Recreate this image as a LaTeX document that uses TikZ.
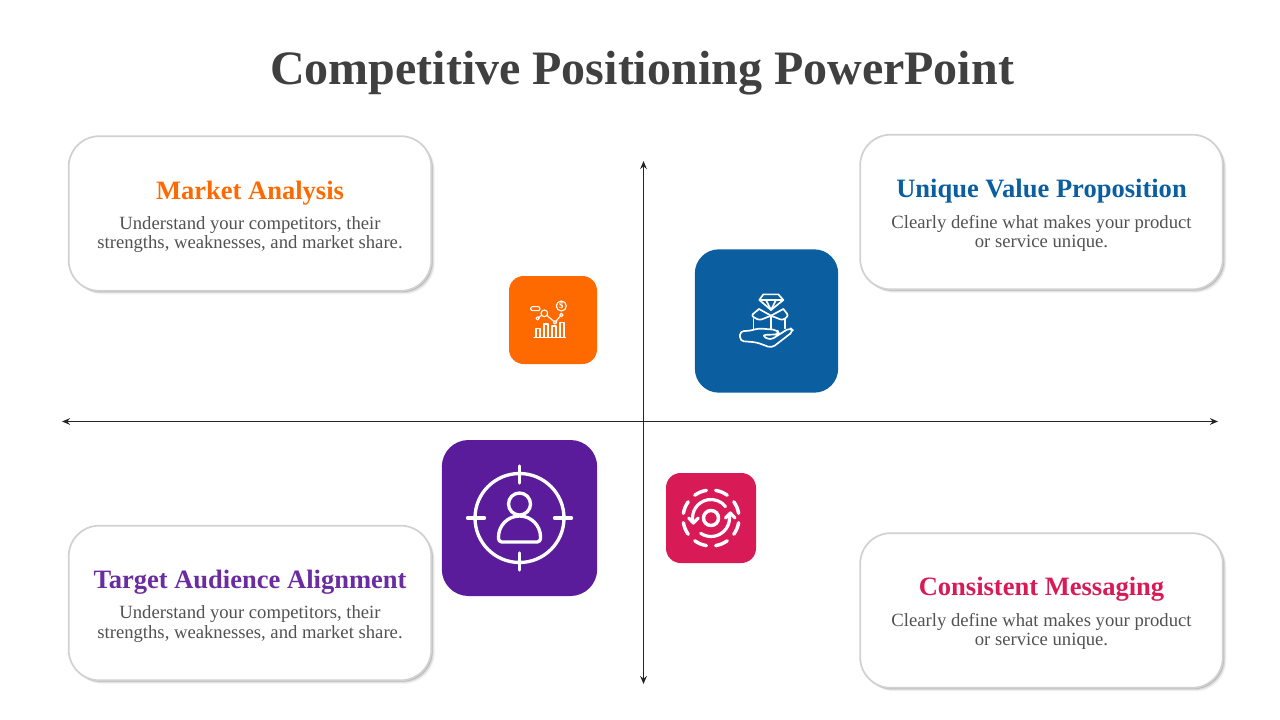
\documentclass[tikz,border=0pt]{standalone}
\usepackage{fontspec}
\setmainfont{Liberation Serif}
\usetikzlibrary{calc,positioning,shadows,arrows.meta}
\definecolor{mktOrange}{HTML}{FF6A00}
\definecolor{uvpBlue}{HTML}{0B5FA0}
\definecolor{tgtPurple}{HTML}{5A1C9A}
\definecolor{tgtText}{HTML}{6A2CA0}
\definecolor{msgRed}{HTML}{D81B56}
\begin{document}
\begin{tikzpicture}[x=0.75pt,y=-0.75pt,
    infocard/.style={draw=black!18,line width=1.3pt,fill=white,rounded corners=23pt,
      minimum width=272pt,minimum height=116pt,
      drop shadow={shadow xshift=2.6pt,shadow yshift=-2.6pt,fill=black!12,opacity=.4},
      drop shadow={shadow xshift=1.8pt,shadow yshift=-1.8pt,fill=black!25,opacity=.45},
      drop shadow={shadow xshift=1pt,shadow yshift=-1pt,fill=black!38,opacity=.55}},
    headtext/.style={font=\fontsize{19.9}{22}\selectfont\bfseries},
    bodytext/.style={align=center,text=black!68,font=\fontsize{14}{14.3}\selectfont},
    iconbox/.style={inner sep=0pt,outer sep=0pt},
    iconline/.style={draw=white,line cap=round,line join=round},
    axisline/.style={{Stealth[length=6pt,width=5pt]}-{Stealth[length=6pt,width=5pt]},line width=.9pt,black!85}]
 \useasboundingbox (0,0) rectangle (1280,720);
 \node[font=\fontsize{36}{40}\selectfont\bfseries,text=black!75] (slideTitle) at (642,73)
  {Competitive Positioning PowerPoint};

 \coordinate (axisW) at (62,421.5);
 \coordinate (axisE) at (1218,421.5);
 \coordinate (axisN) at (643.5,161);
 \coordinate (axisS) at (643.5,684);
 \draw[axisline] (axisW) -- (axisE);
 \draw[axisline] (axisN) -- (axisS);

 \node[infocard] (mktCard) at (250,213.5) {};
 \node[infocard] (uvpCard) at (1041.5,212) {};
 \node[infocard] (tgtCard) at (250,603) {};
 \node[infocard] (msgCard) at (1041.5,610.5) {};

 \node[headtext,text=mktOrange] (mktHead) at ($(mktCard.center)+(0,-20.5)$) {Market Analysis};
 \node[bodytext] (mktBody) at ($(mktCard.center)+(0,21)$)
  {Understand your competitors, their\\ strengths, weaknesses, and market share.};
 \node[headtext,text=uvpBlue] (uvpHead) at ($(uvpCard.center)+(0,-21)$) {Unique Value Proposition};
 \node[bodytext] (uvpBody) at ($(uvpCard.center)+(0,21)$)
  {Clearly define what makes your product\\ or service unique.};
 \node[headtext,text=tgtText] (tgtHead) at ($(tgtCard.center)+(0,-21)$) {Target Audience Alignment};
 \node[bodytext] (tgtBody) at ($(tgtCard.center)+(0,21)$)
  {Understand your competitors, their\\ strengths, weaknesses, and market share.};
 \node[headtext,text=msgRed] (msgHead) at ($(msgCard.center)+(0,-21)$) {Consistent Messaging};
 \node[bodytext] (msgBody) at ($(msgCard.center)+(0,21)$)
  {Clearly define what makes your product\\ or service unique.};

 \node[iconbox,fill=mktOrange,rounded corners=11pt,minimum size=66pt] (mktIcon) at (553,320) {};
 \node[iconbox,fill=uvpBlue,rounded corners=18pt,minimum size=107.5pt] (uvpIcon) at (766.5,321) {};
 \node[iconbox,fill=tgtPurple,rounded corners=20pt,minimum width=116.5pt,minimum height=117pt] (tgtIcon) at (519.5,518) {};
 \node[iconbox,fill=msgRed,rounded corners=11pt,minimum size=67.5pt] (msgIcon) at (711,518) {};

 % chart
 \begin{scope}[shift={(500,270)},scale=1/3,iconline,line width=.85pt]
  \draw (102,202) -- (197,202);
  \foreach \X/\Y in {108/176,132/162,156/168,180/158}
   {\draw (\X,202) -- (\X,\Y) -- (\X+12,\Y) -- (\X+12,202);}
  \draw (113,145) -- (133,130) -- (165,157) -- (184,135);
  \foreach \X/\Y/\R in {113/145/5,133/130/10,165/157/5,184/135/5}
   {\draw[fill=mktOrange] (\X,\Y) circle (\R);}
  \draw[rounded corners=1.5pt] (92,110) rectangle (120,122);
  \draw (184,108) circle (15);
  \node[iconbox,white,font=\fontsize{6.5}{7}\selectfont\bfseries] (mktDollar) at (184,108) {\$};
 \end{scope}

 % hand with box
 \begin{scope}[shift={(690,245)},scale=1/3,iconline,line width=1.25pt]
  \draw (220,148) -- (265,148) -- (280,165) -- (243,195) -- (208,165) -- cycle;
  \draw (208,165) -- (280,165) (228,165) -- (243,195) -- (258,165);
  \draw[rounded corners=2pt] (207,192) -- (183,212) -- (208,226) -- (243,212) -- (278,226) -- (296,212) -- (280,192);
  \draw (207,192) -- (243,212) -- (280,192);
  \draw (190,222) -- (190,252) (285,222) -- (285,250) (243,212) -- (243,252);
  \draw[rounded corners=3pt] (150,258) -- (178,258) -- (205,250) -- (262,255) -- (268,268) -- (215,270) -- (240,286) -- (300,248) -- (311,258) -- (245,309) -- (200,292) -- (150,288) -- cycle;
 \end{scope}

 % crosshair with person
 \begin{scope}[shift={(tgtIcon.center)},iconline,line width=2.5pt]
  \draw (0,0) circle (44.5);
  \draw (0,-52) -- (0,-35) (0,35) -- (0,52) (-52,0) -- (-35,0) (35,0) -- (52,0);
  \draw (0,-14) circle (11);
  \draw (-21,19) arc[start angle=180,end angle=360,radius=21];
  \draw[rounded corners=2.5pt] (-21,19) -- (-21,24) -- (21,24) -- (21,19);
 \end{scope}

 % dashed ring with arrows
 \foreach \A in {22.5,67.5,...,337.5}
  {\draw[iconline,line width=2.6pt] ([shift={(\A-13:28)}]msgIcon.center) arc[start angle=\A-13,end angle=\A+13,radius=28];}
 \draw[iconline,line width=2.6pt] (msgIcon.center) circle (7.5);
 \draw[iconline,line width=2.4pt] ([shift={(169:18.5)}]msgIcon.center) arc[start angle=169,end angle=322,radius=18.5];
 \draw[iconline,line width=2.4pt] ([shift={(124:18.5)}]msgIcon.center) arc[start angle=124,end angle=-10,radius=18.5];
 \draw[iconline,line width=2.4pt] ($(msgIcon.center)+(-22.3,0)$) -- ($(msgIcon.center)+(-17.7,5)$) -- ($(msgIcon.center)+(-12.7,0)$);
 \draw[iconline,line width=2.4pt] ($(msgIcon.center)+(14.5,0)$) -- ($(msgIcon.center)+(19.3,-5)$) -- ($(msgIcon.center)+(24,0)$);
\end{tikzpicture}
\end{document}
